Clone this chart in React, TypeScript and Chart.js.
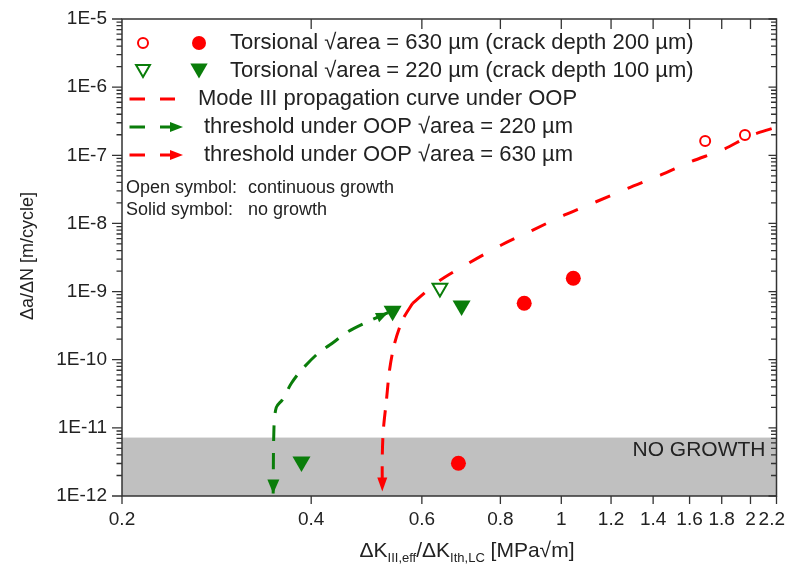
import React, { useEffect, useRef } from 'react';
import { Chart, registerables } from 'chart.js';

Chart.register(...registerables);

const FONT = '"Liberation Sans", Arial, Helvetica, sans-serif';
const RED = '#ff0000';
const GREEN = '#0a7d0a';
const INK = '#222222';

// ---- axes ----
const xTicks = [0.2, 0.4, 0.6, 0.8, 1, 1.2, 1.4, 1.6, 1.8, 2, 2.2];
const xTickLabels = ['0.2', '0.4', '0.6', '0.8', '1', '1.2', '1.4', '1.6', '1.8', '2', '2.2'];
const yTicks = [1e-12, 1e-11, 1e-10, 1e-9, 1e-8, 1e-7, 1e-6, 1e-5];
const noGrowthLimit = 7.2e-12;
const noGrowthLabel = 'NO GROWTH';

// ---- series ----
const openRedX = [1.694, 1.96];
const openRedY = [1.62e-7, 1.99e-7];
const solidRedX = [0.686, 0.873, 1.045];
const solidRedY = [3.02e-12, 6.73e-10, 1.57e-9];
const openGreenX = [0.641];
const openGreenY = [1.13e-9];
const solidGreenX = [0.386, 0.539, 0.694];
const solidGreenY = [3.2e-12, 5.2e-10, 6.2e-10];

const modeIIIX = [0.58, 0.637, 0.714, 0.803, 0.901, 1.012, 1.136, 1.275, 1.44, 1.607, 1.811, 1.996, 2.174];
const modeIIIY = [6.73e-10, 1.4e-9, 2.65e-9, 4.82e-9, 8.0e-9, 1.33e-8, 2.08e-8, 3.27e-8, 5.14e-8, 8.05e-8, 1.22e-7, 1.92e-7, 2.51e-7];

const greenThrX = [0.53, 0.486, 0.458, 0.428, 0.41, 0.386, 0.372, 0.36, 0.352, 0.349, 0.348];
const greenThrY = [4.9e-10, 3.42e-10, 2.58e-10, 1.64e-10, 1.24e-10, 7.06e-11, 4.51e-11, 2.6e-11, 2.0e-11, 1.0e-11, 1.09e-12];

const redThrX = [0.58, 0.559, 0.543, 0.533, 0.527, 0.521, 0.519, 0.519];
const redThrY = [6.73e-10, 3.83e-10, 1.74e-10, 7.06e-11, 2.56e-11, 9.29e-12, 3.77e-12, 1.16e-12];

const legendTexts = [
  'Torsional √area = 630 µm (crack depth 200 µm)',
  'Torsional √area = 220 µm (crack depth 100 µm)',
  'Mode III propagation curve under OOP',
  'threshold under OOP √area = 220 µm',
  'threshold under OOP √area = 630 µm',
];
const noteTexts = [
  ['Open symbol:', 'continuous growth'],
  ['Solid symbol:', 'no growth'],
];

const pts = (xs: number[], ys: number[]) => xs.map((x, i) => ({ x, y: ys[i] }));

function arrowHead(ctx: CanvasRenderingContext2D, fx: number, fy: number, tx: number, ty: number, len: number, hw: number, color: string) {
  const ang = Math.atan2(ty - fy, tx - fx);
  const bx = tx - Math.cos(ang) * len;
  const by = ty - Math.sin(ang) * len;
  const nx = -Math.sin(ang) * hw;
  const ny = Math.cos(ang) * hw;
  ctx.save();
  ctx.fillStyle = color;
  ctx.beginPath();
  ctx.moveTo(tx, ty);
  ctx.lineTo(bx + nx, by + ny);
  ctx.lineTo(bx - nx, by - ny);
  ctx.closePath();
  ctx.fill();
  ctx.restore();
}

function downTriangle(ctx: CanvasRenderingContext2D, cx: number, cy: number, r: number) {
  const s = Math.sin(Math.PI / 3) * r;
  ctx.beginPath();
  ctx.moveTo(cx, cy + r);
  ctx.lineTo(cx - s, cy - r / 2);
  ctx.lineTo(cx + s, cy - r / 2);
  ctx.closePath();
}

const decor = {
  id: 'decor',
  beforeDatasetsDraw(chart: any) {
    const { ctx, chartArea: a, scales } = chart;
    const y = scales.y;
    const yTop = y.getPixelForValue(noGrowthLimit);
    ctx.save();
    ctx.fillStyle = '#c0c0c0';
    ctx.fillRect(a.left, yTop, a.right - a.left, a.bottom - yTop);
    ctx.fillStyle = INK;
    ctx.font = `21px ${FONT}`;
    ctx.textAlign = 'right';
    ctx.textBaseline = 'middle';
    ctx.fillText(noGrowthLabel, a.right - 11, yTop + 13);
    ctx.restore();
  },
  afterDatasetsDraw(chart: any) {
    const { ctx, chartArea: a, scales } = chart;
    const x = scales.x;
    const y = scales.y;
    chart.data.datasets.forEach((ds: any, i: number) => {
      const meta = chart.getDatasetMeta(i);
      const p = meta.data;
      if (!p || p.length < 2) return;
      if (ds.arrowEnd) {
        const n = p.length;
        arrowHead(ctx, p[n - 2].x, p[n - 2].y, p[n - 1].x, p[n - 1].y, ds.arrowEnd[0], ds.arrowEnd[1], ds.borderColor);
      }
      if (ds.arrowStart) {
        arrowHead(ctx, p[1].x, p[1].y, p[0].x, p[0].y, ds.arrowStart[0], ds.arrowStart[1], ds.borderColor);
      }
    });
    ctx.save();
    ctx.strokeStyle = '#333';
    ctx.lineWidth = 1.5;
    ctx.strokeRect(a.left, a.top, a.right - a.left, a.bottom - a.top);
    ctx.lineWidth = 1.3;
    ctx.beginPath();
    for (let e = -12; e <= -5; e++) {
      const py = y.getPixelForValue(Math.pow(10, e));
      ctx.moveTo(a.left - 10, py); ctx.lineTo(a.left, py);
      ctx.moveTo(a.right - 8, py); ctx.lineTo(a.right, py);
      if (e < -5) {
        for (let m = 2; m <= 9; m++) {
          const pm = y.getPixelForValue(m * Math.pow(10, e));
          ctx.moveTo(a.left - 5.5, pm); ctx.lineTo(a.left, pm);
          ctx.moveTo(a.right - 5.5, pm); ctx.lineTo(a.right, pm);
        }
      }
    }
    xTicks.forEach((v, i) => {
      const px = x.getPixelForValue(v);
      ctx.moveTo(px, a.bottom); ctx.lineTo(px, a.bottom + 8);
      if (i > 0 && i < xTicks.length - 1) {
        ctx.moveTo(px, a.top); ctx.lineTo(px, a.top + 10);
      }
    });
    ctx.stroke();
    ctx.restore();
  },
  afterDraw(chart: any) {
    const { ctx, chartArea: a, scales } = chart;
    const x = scales.x;
    ctx.save();
    ctx.fillStyle = INK;
    ctx.font = `19px ${FONT}`;
    ctx.textAlign = 'center';
    ctx.textBaseline = 'middle';
    xTicks.forEach((v, i) => {
      const t = xTickLabels[i];
      const w = ctx.measureText(t).width;
      let px = x.getPixelForValue(v);
      px = Math.min(px, chart.width - w / 2 - 2);
      ctx.fillText(t, px, a.bottom + 24);
    });

    const rows = [43, 71, 99, 127, 155];
    ctx.lineWidth = 2;
    ctx.strokeStyle = RED;
    ctx.beginPath(); ctx.arc(143, rows[0], 5, 0, Math.PI * 2); ctx.stroke();
    ctx.fillStyle = RED;
    ctx.beginPath(); ctx.arc(199, rows[0], 7, 0, Math.PI * 2); ctx.fill();
    ctx.strokeStyle = GREEN;
    downTriangle(ctx, 143, rows[1] - 2, 8); ctx.stroke();
    ctx.fillStyle = GREEN;
    downTriangle(ctx, 199, rows[1] - 2.5, 10); ctx.fill();
    ctx.lineWidth = 3;
    ctx.lineCap = 'butt';
    const dashRow = (yy: number, color: string, arrow: boolean) => {
      ctx.strokeStyle = color;
      ctx.beginPath();
      ctx.moveTo(129.5, yy); ctx.lineTo(145, yy);
      ctx.moveTo(160, yy); ctx.lineTo(arrow ? 172 : 175, yy);
      ctx.stroke();
      if (arrow) arrowHead(ctx, 160, yy, 183, yy, 13, 5, color);
    };
    dashRow(rows[2], RED, false);
    dashRow(rows[3], GREEN, true);
    dashRow(rows[4], RED, true);
    ctx.fillStyle = INK;
    ctx.font = `22px ${FONT}`;
    ctx.textAlign = 'left';
    ctx.textBaseline = 'middle';
    ctx.fillText(legendTexts[0], 230, rows[0]);
    ctx.fillText(legendTexts[1], 230, rows[1]);
    ctx.fillText(legendTexts[2], 198, rows[2]);
    ctx.fillText(legendTexts[3], 204, rows[3]);
    ctx.fillText(legendTexts[4], 204, rows[4]);
    ctx.font = `18px ${FONT}`;
    ctx.fillText(noteTexts[0][0], a.left + 4, 188);
    ctx.fillText(noteTexts[0][1], 248, 188);
    ctx.fillText(noteTexts[1][0], a.left + 4, 210);
    ctx.fillText(noteTexts[1][1], 248, 210);

    ctx.save();
    ctx.translate(28, 256);
    ctx.rotate(-Math.PI / 2);
    ctx.font = `18px ${FONT}`;
    ctx.textAlign = 'center';
    ctx.fillText('Δa/ΔN [m/cycle]', 0, 0);
    ctx.restore();

    const big = `21px ${FONT}`;
    const small = `13px ${FONT}`;
    const segs: [string, boolean][] = [
      ['ΔK', false], ['III,eff', true], ['/ΔK', false], ['Ith,LC', true], [' [MPa√m]', false],
    ];
    let total = 0;
    segs.forEach(([t, s]) => { ctx.font = s ? small : big; total += ctx.measureText(t).width; });
    let cx = 467 - total / 2;
    const base = 557;
    ctx.textAlign = 'left';
    ctx.textBaseline = 'alphabetic';
    segs.forEach(([t, s]) => {
      ctx.font = s ? small : big;
      ctx.fillText(t, cx, s ? base + 5 : base);
      cx += ctx.measureText(t).width;
    });
    ctx.restore();
  },
};

export default function App() {
  const ref = useRef<HTMLCanvasElement>(null);
  useEffect(() => {
    document.body.style.margin = '0';
    const canvas = ref.current;
    if (!canvas) return;
    const chart = new Chart(canvas, {
      type: 'scatter',
      data: {
        datasets: [
          {
            label: 'Mode III',
            data: pts(modeIIIX, modeIIIY),
            showLine: true,
            borderColor: RED,
            borderWidth: 3,
            borderDash: [16, 19],
            pointRadius: 0,
            tension: 0.3,
          } as any,
          {
            label: 'thr220',
            data: pts(greenThrX, greenThrY),
            showLine: true,
            borderColor: GREEN,
            borderWidth: 3,
            borderDash: [16, 12],
            pointRadius: 0,
            tension: 0.3,
            arrowEnd: [14, 6],
            arrowStart: [12, 5],
          } as any,
          {
            label: 'thr630',
            data: pts(redThrX, redThrY),
            showLine: true,
            borderColor: RED,
            borderWidth: 3,
            borderDash: [16, 12],
            pointRadius: 0,
            tension: 0.3,
            arrowEnd: [14, 5],
          } as any,
          {
            label: 'open630',
            data: pts(openRedX, openRedY),
            pointStyle: 'circle',
            pointRadius: 5,
            borderWidth: 2,
            borderColor: RED,
            backgroundColor: 'rgba(255,255,255,0)',
          },
          {
            label: 'solid630',
            data: pts(solidRedX, solidRedY),
            pointStyle: 'circle',
            pointRadius: 7.5,
            borderWidth: 0,
            backgroundColor: RED,
          },
          {
            label: 'open220',
            data: pts(openGreenX, openGreenY),
            pointStyle: 'triangle',
            rotation: 180,
            pointRadius: 8.5,
            borderWidth: 2,
            borderColor: GREEN,
            backgroundColor: 'rgba(255,255,255,0)',
          } as any,
          {
            label: 'solid220',
            data: pts(solidGreenX, solidGreenY),
            pointStyle: 'triangle',
            rotation: 180,
            pointRadius: 10.4,
            borderWidth: 0,
            backgroundColor: GREEN,
          } as any,
        ],
      },
      options: {
        responsive: false,
        animation: false,
        layout: { padding: { left: 0, top: 19, right: 9, bottom: 0 } },
        plugins: { legend: { display: false }, tooltip: { enabled: false } },
        scales: {
          x: {
            type: 'logarithmic',
            min: 0.2,
            max: 2.2,
            border: { display: false },
            grid: { display: false, drawTicks: false },
            afterBuildTicks: (s: any) => { s.ticks = xTicks.map((v) => ({ value: v })); },
            afterFit: (s: any) => { s.height = 73; s.paddingLeft = 0; s.paddingRight = 0; },
            ticks: { display: false, autoSkip: false, maxRotation: 0 },
          },
          y: {
            type: 'logarithmic',
            min: 1e-12,
            max: 1e-5,
            border: { display: false },
            grid: { display: false, drawTicks: false },
            afterBuildTicks: (s: any) => { s.ticks = yTicks.map((v) => ({ value: v })); },
            afterFit: (s: any) => { s.width = 122; s.paddingTop = 0; s.paddingBottom = 0; },
            ticks: {
              autoSkip: false,
              padding: 15,
              color: INK,
              font: { family: FONT, size: 19 },
              callback: (v: any) => '1E' + Math.round(Math.log10(Number(v))),
            },
          },
        },
      },
      plugins: [decor],
    });
    return () => chart.destroy();
  }, []);
  return <canvas ref={ref} width={787} height={569} style={{ display: 'block' }} />;
}
